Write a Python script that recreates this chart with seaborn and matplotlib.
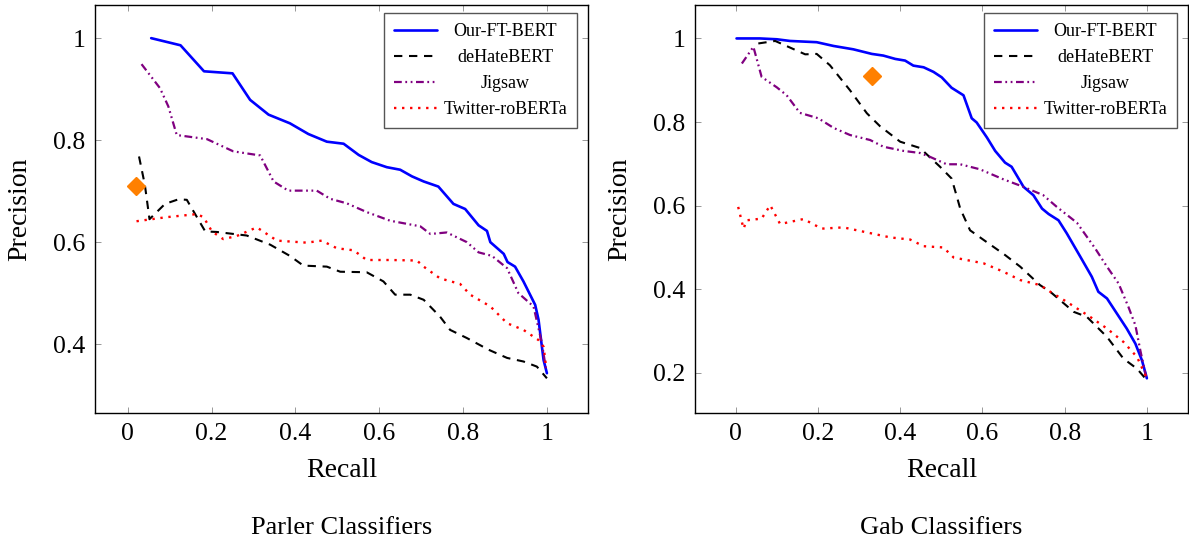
import matplotlib
matplotlib.use("Agg")
import matplotlib.pyplot as plt
import seaborn as sns

# Parler classifiers (recall, precision)
parler_ours_x = [0.056, 0.126, 0.182, 0.25, 0.292, 0.336, 0.387, 0.431, 0.475, 0.515, 0.551, 0.582, 0.618, 0.65,
                 0.678, 0.706, 0.741, 0.777, 0.805, 0.837, 0.857, 0.865, 0.897, 0.906, 0.924, 0.944, 0.972, 0.98,
                 0.992, 1.0]
parler_ours_y = [1.0, 0.986, 0.935, 0.931, 0.879, 0.85, 0.833, 0.812, 0.797, 0.793, 0.771, 0.757, 0.747, 0.742,
                 0.729, 0.719, 0.709, 0.675, 0.665, 0.633, 0.622, 0.6, 0.577, 0.561, 0.552, 0.523, 0.477, 0.448,
                 0.369, 0.343]
parler_dehate_x = [0.027, 0.041, 0.052, 0.089, 0.121, 0.141, 0.185, 0.212, 0.284, 0.34, 0.387, 0.419, 0.475, 0.507,
                   0.57, 0.61, 0.638, 0.674, 0.706, 0.745, 0.769, 0.809, 0.861, 0.905, 0.944, 0.976, 1.0]
parler_dehate_y = [0.768, 0.712, 0.645, 0.675, 0.684, 0.683, 0.621, 0.62, 0.613, 0.595, 0.573, 0.554, 0.552, 0.542,
                   0.541, 0.523, 0.497, 0.497, 0.487, 0.454, 0.428, 0.412, 0.389, 0.373, 0.366, 0.356, 0.333]
parler_jigsaw_x = [0.033, 0.077, 0.097, 0.117, 0.189, 0.252, 0.316, 0.348, 0.383, 0.451, 0.483, 0.523, 0.57, 0.626,
                   0.698, 0.722, 0.761, 0.809, 0.837, 0.869, 0.905, 0.932, 0.968, 0.988, 0.998]
parler_jigsaw_y = [0.949, 0.902, 0.866, 0.81, 0.802, 0.778, 0.77, 0.719, 0.701, 0.701, 0.685, 0.676, 0.659, 0.642,
                   0.631, 0.616, 0.619, 0.6, 0.58, 0.573, 0.549, 0.5, 0.474, 0.402, 0.35]
parler_twitter_x = [0.021, 0.093, 0.165, 0.181, 0.201, 0.228, 0.26, 0.308, 0.356, 0.427, 0.463, 0.499, 0.539, 0.57,
                    0.626, 0.69, 0.706, 0.745, 0.793, 0.817, 0.865, 0.905, 0.944, 0.98, 0.992, 0.998]
parler_twitter_y = [0.641, 0.649, 0.655, 0.649, 0.621, 0.606, 0.612, 0.629, 0.603, 0.599, 0.603, 0.588, 0.584, 0.565,
                    0.565, 0.564, 0.552, 0.529, 0.518, 0.497, 0.474, 0.441, 0.428, 0.408, 0.395, 0.356]
parler_point = (0.019, 0.71)

# Gab classifiers
gab_ours_x = [0.002, 0.059, 0.1, 0.132, 0.197, 0.238, 0.286, 0.331, 0.359, 0.388, 0.412, 0.432, 0.457, 0.481, 0.501,
              0.525, 0.554, 0.574, 0.586, 0.611, 0.631, 0.655, 0.671, 0.7, 0.724, 0.745, 0.761, 0.785, 0.805, 0.838,
              0.866, 0.882, 0.903, 0.927, 0.951, 0.972, 0.988, 1.0]
gab_ours_y = [1.0, 1.0, 0.998, 0.994, 0.991, 0.982, 0.974, 0.963, 0.959, 0.951, 0.947, 0.935, 0.931, 0.92, 0.907,
              0.882, 0.864, 0.809, 0.799, 0.763, 0.731, 0.703, 0.693, 0.645, 0.625, 0.593, 0.58, 0.565, 0.534, 0.478,
              0.43, 0.394, 0.378, 0.342, 0.306, 0.27, 0.23, 0.187]
gab_dehate_x = [0.055, 0.096, 0.169, 0.197, 0.229, 0.278, 0.319, 0.351, 0.4, 0.448, 0.497, 0.525, 0.538, 0.546, 0.57,
                0.603, 0.655, 0.692, 0.74, 0.765, 0.822, 0.854, 0.903, 0.943, 0.976, 0.996]
gab_dehate_y = [0.988, 0.994, 0.962, 0.963, 0.936, 0.876, 0.821, 0.79, 0.753, 0.738, 0.693, 0.665, 0.621, 0.593,
                0.541, 0.518, 0.482, 0.454, 0.41, 0.394, 0.346, 0.334, 0.286, 0.234, 0.21, 0.187]
gab_jigsaw_x = [0.015, 0.043, 0.063, 0.1, 0.124, 0.156, 0.201, 0.238, 0.278, 0.327, 0.359, 0.408, 0.448, 0.472, 0.513,
                0.546, 0.594, 0.651, 0.7, 0.748, 0.781, 0.83, 0.874, 0.903, 0.931, 0.955, 0.972, 0.984, 0.998]
gab_jigsaw_y = [0.94, 0.98, 0.908, 0.883, 0.864, 0.822, 0.809, 0.786, 0.769, 0.757, 0.741, 0.731, 0.726, 0.717, 0.699,
                0.699, 0.687, 0.663, 0.645, 0.625, 0.597, 0.559, 0.498, 0.454, 0.414, 0.358, 0.314, 0.254, 0.191]
gab_twitter_x = [0.006, 0.019, 0.027, 0.063, 0.084, 0.108, 0.165, 0.209, 0.262, 0.319, 0.376, 0.424, 0.457, 0.505,
                 0.53, 0.603, 0.651, 0.692, 0.74, 0.765, 0.805, 0.862, 0.903, 0.943, 0.976, 0.998]
gab_twitter_y = [0.597, 0.545, 0.565, 0.569, 0.601, 0.556, 0.568, 0.545, 0.548, 0.536, 0.524, 0.519, 0.503, 0.5,
                 0.476, 0.462, 0.442, 0.422, 0.41, 0.394, 0.37, 0.334, 0.306, 0.274, 0.238, 0.191]
gab_point = (0.331, 0.91)

labels = ["Our-FT-BERT", "deHateBERT", "Jigsaw", "Twitter-roBERTa"]
x_ticks = [0, 0.2, 0.4, 0.6, 0.8, 1]
x_tick_labels = ["0", "0.2", "0.4", "0.6", "0.8", "1"]

sns.set_style("ticks")
plt.rcParams["font.family"] = ["Liberation Serif", "DejaVu Serif"]
plt.rcParams.update({"text.color": "black", "axes.labelcolor": "black",
                     "xtick.labelcolor": "black", "ytick.labelcolor": "black"})

styles = [
    dict(color="#0000ff", lw=1.9, linestyle="-"),
    dict(color="black", lw=1.5, linestyle=(0, (4.0, 3.2))),
    dict(color="#800080", lw=1.6, linestyle=(0, (3.5, 1.6, 0.8, 1.6, 0.8, 1.6))),
    dict(color="#ff0000", lw=1.7, linestyle=(0, (1.0, 2.4))),
]

fig = plt.figure(figsize=(11.89, 5.45), dpi=100)
ax1 = fig.add_axes([95 / 1189, 132 / 545, 493 / 1189, 408 / 545])
ax2 = fig.add_axes([695 / 1189, 132 / 545, 493 / 1189, 408 / 545])
legends = []


def draw_panel(ax, series, point, xlim, ylim, yticks, caption):
    for (xs, ys), lab, st in zip(series, labels, styles):
        sns.lineplot(x=xs, y=ys, ax=ax, sort=False, estimator=None, label=lab, **st)
    ax.plot([point[0]], [point[1]], marker="D", ms=9, color="#ff8000", linestyle="none")
    ax.set_xlim(*xlim)
    ax.set_ylim(*ylim)
    ax.set_xticks(x_ticks)
    ax.set_xticklabels(x_tick_labels)
    ax.set_yticks(yticks)
    ax.set_yticklabels([("%g" % t) for t in yticks])
    ax.tick_params(direction="in", length=4, width=0.6, color="#888888", top=True, right=True,
                   labelsize=18.5, pad=7, labelcolor="black")
    for sp in ax.spines.values():
        sp.set_color("black")
        sp.set_linewidth(1.0)
    ax.set_xlabel("Recall", fontsize=20)
    ax.set_ylabel("Precision", fontsize=20)
    ax.xaxis.set_label_coords(0.5, -0.11)
    ax.yaxis.set_label_coords(-0.128, 0.5)
    leg = ax.legend(loc="upper right", bbox_to_anchor=(0.978, 0.98), borderaxespad=0, fontsize=13,
                    frameon=True, fancybox=False, edgecolor="#555555", framealpha=1, handlelength=2.4,
                    borderpad=0.55, labelspacing=0.5, handletextpad=0.35)
    leg.get_frame().set_linewidth(1.0)
    for t in leg.get_texts():
        t.set_color("black")
    legends.append(leg)
    bb = ax.get_position()
    fig.text((bb.x0 + bb.x1) / 2, 1 - 528 / 545, caption, ha="center", va="center", fontsize=19)


draw_panel(ax1,
           [(parler_ours_x, parler_ours_y), (parler_dehate_x, parler_dehate_y),
            (parler_jigsaw_x, parler_jigsaw_y), (parler_twitter_x, parler_twitter_y)],
           parler_point, (-0.078, 1.098), (0.265, 1.065), [0.4, 0.6, 0.8, 1.0], "Parler Classifiers")
draw_panel(ax2,
           [(gab_ours_x, gab_ours_y), (gab_dehate_x, gab_dehate_y),
            (gab_jigsaw_x, gab_jigsaw_y), (gab_twitter_x, gab_twitter_y)],
           gab_point, (-0.099, 1.1), (0.104, 1.08), [0.2, 0.4, 0.6, 0.8, 1.0], "Gab Classifiers")

# centre the legend entries the way pgfplots does
fig.canvas.draw()
for leg in legends:
    widths = [t.get_window_extent().width for t in leg.get_texts()]
    wmax = max(widths)
    for t, w in zip(leg.get_texts(), widths):
        t.set_x((wmax - w) / 2)

fig.savefig("out.png", dpi=100)
